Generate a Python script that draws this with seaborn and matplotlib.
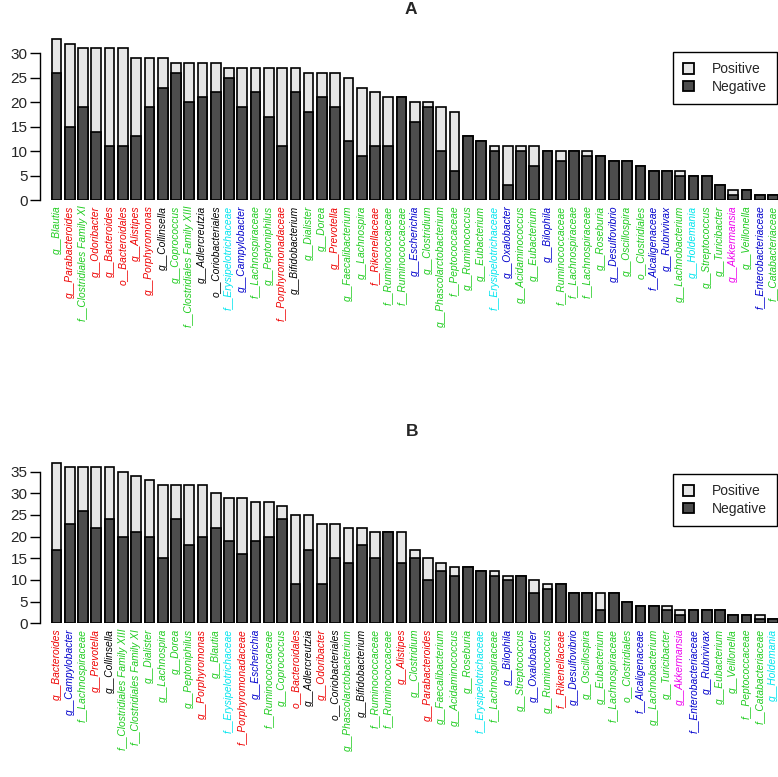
import numpy as np
import pandas as pd
import matplotlib
matplotlib.use("Agg")
import matplotlib.pyplot as plt
import seaborn as sns
from matplotlib.patches import Patch

## data

labels_a = ["g__Blautia", "g__Parabacteroides", "f__Clostridiales Family XI", "g__Odoribacter",
            "g__Bacteroides", "o__Bacteroidales", "g__Alistipes", "g__Porphyromonas", "g__Collinsella",
            "g__Coprococcus", "f__Clostridiales Family XIII", "g__Adlercreutzia", "o__Coriobacteriales",
            "f__Erysipelotrichaceae", "g__Campylobacter", "f__Lachnospiraceae", "g__Peptoniphilus",
            "f__Porphyromonadaceae", "g__Bifidobacterium", "g__Dialister", "g__Dorea", "g__Prevotella",
            "g__Faecalibacterium", "g__Lachnospira", "f__Rikenellaceae", "f__Ruminococcaceae",
            "f__Ruminococcaceae", "g__Escherichia", "g__Clostridium", "g__Phascolarctobacterium",
            "f__Peptococcaceae", "g__Ruminococcus", "g__Eubacterium", "f__Erysipelotrichaceae",
            "g__Oxalobacter", "g__Acidaminococcus", "g__Eubacterium", "g__Bilophila", "f__Ruminococcaceae",
            "f__Lachnospiraceae", "f__Lachnospiraceae", "g__Roseburia", "g__Desulfovibrio", "g__Oscillospira",
            "o__Clostridiales", "f__Alcaligenaceae", "g__Rubrivivax", "g__Lachnobacterium", "g__Holdemania",
            "g__Streptococcus", "g__Turicibacter", "g__Akkermansia", "g__Veillonella",
            "f__Enterobacteriaceae", "f__Catabacteriaceae"]
total_a = [33, 32, 31, 31, 31, 31, 29, 29, 29, 28, 28, 28, 28, 27, 27, 27, 27, 27, 27, 26, 26, 26, 25, 23,
           22, 21, 21, 20, 20, 19, 18, 13, 12, 11, 11, 11, 11, 10, 10, 10, 10, 9, 8, 8, 7, 6, 6, 6, 5, 5,
           3, 2, 2, 1, 1]
neg_a = [26, 15, 19, 14, 11, 11, 13, 19, 23, 26, 20, 21, 22, 25, 19, 22, 17, 11, 22, 18, 21, 19, 12, 9,
         11, 11, 21, 16, 19, 10, 6, 13, 12, 10, 3, 10, 7, 10, 8, 10, 9, 9, 8, 8, 7, 6, 6, 5, 5, 5,
         3, 1, 2, 1, 1]

labels_b = ["g__Bacteroides", "g__Campylobacter", "f__Lachnospiraceae", "g__Prevotella", "g__Collinsella",
            "f__Clostridiales Family XIII", "f__Clostridiales Family XI", "g__Dialister", "g__Lachnospira",
            "g__Dorea", "g__Peptoniphilus", "g__Porphyromonas", "g__Blautia", "f__Erysipelotrichaceae",
            "f__Porphyromonadaceae", "g__Escherichia", "f__Ruminococcaceae", "g__Coprococcus",
            "o__Bacteroidales", "g__Adlercreutzia", "g__Odoribacter", "o__Coriobacteriales",
            "g__Phascolarctobacterium", "g__Bifidobacterium", "f__Ruminococcaceae", "f__Ruminococcaceae",
            "g__Alistipes", "g__Clostridium", "g__Parabacteroides", "g__Faecalibacterium",
            "g__Acidaminococcus", "g__Roseburia", "f__Erysipelotrichaceae", "f__Lachnospiraceae",
            "g__Bilophila", "g__Streptococcus", "g__Oxalobacter", "g__Ruminococcus", "f__Rikenellaceae",
            "g__Desulfovibrio", "g__Oscillospira", "g__Eubacterium", "f__Lachnospiraceae",
            "o__Clostridiales", "f__Alcaligenaceae", "g__Lachnobacterium", "g__Turicibacter",
            "g__Akkermansia", "f__Enterobacteriaceae", "g__Rubrivivax", "g__Eubacterium", "g__Veillonella",
            "f__Peptococcaceae", "f__Catabacteriaceae", "g__Holdemania"]
total_b = [37, 36, 36, 36, 36, 35, 34, 33, 32, 32, 32, 32, 30, 29, 29, 28, 28, 27, 25, 25, 23, 23, 22, 22,
           21, 21, 21, 17, 15, 14, 13, 13, 12, 12, 11, 11, 10, 9, 9, 7, 7, 7, 7, 5, 4, 4, 4, 3, 3, 3,
           3, 2, 2, 2, 1]
neg_b = [17, 23, 26, 22, 24, 20, 21, 20, 15, 24, 18, 20, 22, 19, 16, 19, 20, 24, 9, 17, 9, 15, 14, 18,
         15, 21, 14, 15, 10, 12, 11, 13, 12, 11, 10, 11, 7, 8, 9, 7, 7, 3, 7, 5, 4, 4, 3, 2, 3, 3,
         3, 2, 2, 1, 1]

# taxon group used for label colour
groups = {
    "Bacteroidetes": ["Parabacteroides", "Odoribacter", "Bacteroides", "Bacteroidales", "Alistipes",
                      "Porphyromonas", "Porphyromonadaceae", "Prevotella", "Rikenellaceae"],
    "Actinobacteria": ["Collinsella", "Adlercreutzia", "Coriobacteriales", "Bifidobacterium"],
    "Proteobacteria": ["Campylobacter", "Escherichia", "Oxalobacter", "Bilophila", "Desulfovibrio",
                       "Alcaligenaceae", "Rubrivivax", "Enterobacteriaceae"],
    "Erysipelotrichi": ["Erysipelotrichaceae", "Holdemania"],
    "Verrucomicrobia": ["Akkermansia"],
}
group_colors = {"Bacteroidetes": "#ee0000", "Actinobacteria": "black", "Proteobacteria": "#0000cc",
                "Erysipelotrichi": "#00e5ee", "Verrucomicrobia": "#ee00ee", "Firmicutes": "#1fcc1f"}


def label_color(name):
    taxon = name.split("__")[1]
    for g, members in groups.items():
        if taxon in members:
            return group_colors[g]
    return group_colors["Firmicutes"]


light = "#e6e6e6"
dark = "#4d4d4d"

sns.set_style("white")
plt.rcParams["font.family"] = ["Liberation Sans", "DejaVu Sans"]

fig = plt.figure(figsize=(7.78, 7.77), dpi=100)
W, H = 778, 777


def panel(rect_px, labels, total, neg, ymax_tick, ylim_top, title, title_xy, legend_top):
    left, top, right, bottom = rect_px
    ax = fig.add_axes([left / W, 1 - bottom / H, (right - left) / W, (bottom - top) / H])
    df = pd.DataFrame({"pos": np.arange(len(labels)), "total": total, "neg": neg})
    sns.barplot(data=df, x="pos", y="total", color=light, saturation=1, width=0.73,
                edgecolor="black", linewidth=1.2, errorbar=None, ax=ax)
    sns.barplot(data=df, x="pos", y="neg", color=dark, saturation=1, width=0.73,
                edgecolor="black", linewidth=1.2, errorbar=None, ax=ax)
    ax.set_xlim(-1.243, 54.37)
    ax.set_ylim(0, ylim_top)
    ax.set_xlabel("")
    ax.set_ylabel("")
    for s in ["top", "right", "bottom"]:
        ax.spines[s].set_visible(False)
    ax.spines["left"].set_bounds(0, ymax_tick)
    ax.spines["left"].set_linewidth(1.0)
    ax.spines["left"].set_color("black")
    ax.set_yticks(range(0, ymax_tick + 1, 5))
    ax.tick_params(axis="y", length=7, width=1.0, labelsize=11, pad=2, left=True, color="black")
    ax.set_xticks(range(len(labels)))
    ax.set_xticklabels(labels, rotation=90, fontsize=7.4, fontstyle="italic")
    ax.tick_params(axis="x", length=0, pad=4)
    for t, name in zip(ax.get_xticklabels(), labels):
        t.set_color(label_color(name))
    fig.text(title_xy[0] / W, 1 - title_xy[1] / H, title, fontsize=12.5, fontweight="bold",
             ha="center", va="center")
    handles = [Patch(facecolor=light, edgecolor="black", linewidth=1.3, label="Positive"),
               Patch(facecolor=dark, edgecolor="black", linewidth=1.3, label="Negative")]
    leg = ax.legend(handles=handles, loc="upper right", bbox_to_anchor=(777 / W, 1 - legend_top / H),
                    bbox_transform=fig.transFigure, borderaxespad=0, fontsize=10, fancybox=False,
                    framealpha=1, edgecolor="black", handlelength=0.75, handleheight=0.75,
                    handletextpad=1.3, borderpad=0.75, labelspacing=0.25)
    leg.get_frame().set_linewidth(1.0)
    return ax


# 0 at px 200, 4.89 px per unit
panel((40, 20, 778, 200), labels_a, total_a, neg_a, 30, 180 / 4.89, "A", (411, 9), 52)
# 0 at px 623.3, 4.333 px per unit
panel((40, 440, 778, 623.3), labels_b, total_b, neg_b, 35, 183.3 / 4.333, "B", (412, 432), 474)

fig.savefig("out.png", dpi=100)
